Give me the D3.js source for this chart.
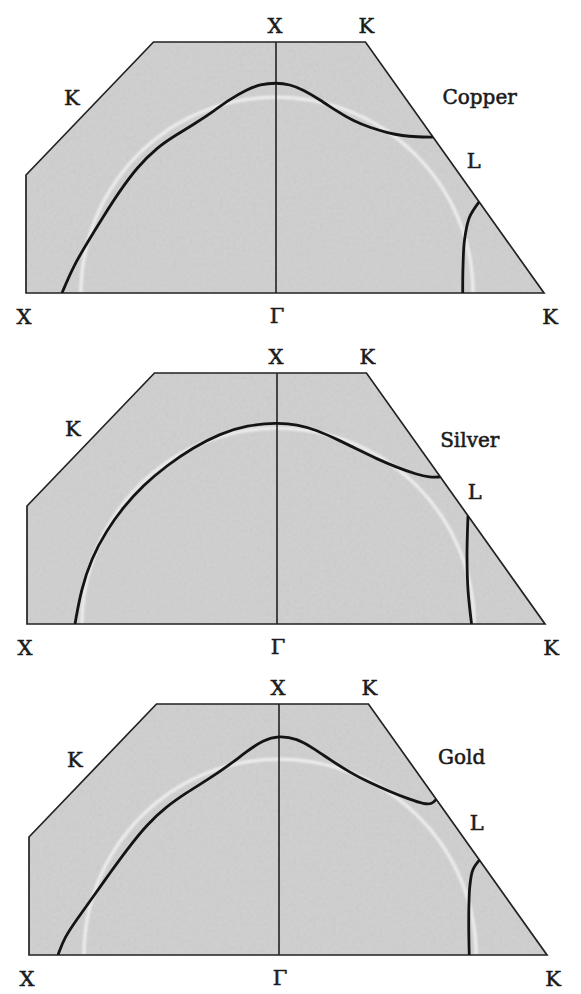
<!DOCTYPE html>
<html>
<head>
<meta charset="utf-8">
<script src="https://cdn.jsdelivr.net/npm/d3@7"></script>
<style>
  html, body { margin: 0; background: #fff; }
  svg { display: block; }
</style>
</head>
<body>
<svg id="chart" width="581" height="994"></svg>
<script>
// Fermi-surface sections of the noble metals inside the fcc Brillouin zone.
// Units are 2π/a: horizontal = wavevector along the section, vertical = k_z.

const metals = ["Copper", "Silver", "Gold"];

// Zone-boundary outline: X → K → X(top) → K → L → K
const zoneBoundary = [[-1, 0], [-1, 0.47], [-0.49, 1], [0, 1], [0.354, 1], [1.0607, 0]];

// Symmetry points and their names
const pointNames = ["X", "K", "K", "L", "X", "Γ", "K"];
const pointCoords = [[0, 1], [0.354, 1], [-0.745, 0.735], [0.707, 0.5], [-1, 0], [0, 0], [1.0607, 0]];

// Free-electron sphere radius
const freeElectronRadius = 0.78;

// Main "belly" sections of each Fermi surface (left branch → peak toward X → meets the L face)
const copperBelly = [
  [-0.856, 0], [-0.812, 0.104], [-0.756, 0.199], [-0.692, 0.303], [-0.624, 0.408],
  [-0.556, 0.500], [-0.476, 0.580], [-0.396, 0.632], [-0.316, 0.680], [-0.252, 0.723],
  [-0.184, 0.772], [-0.116, 0.811], [-0.064, 0.831], [0, 0.838], [0.055, 0.831],
  [0.107, 0.810], [0.174, 0.770], [0.241, 0.724], [0.304, 0.686], [0.372, 0.659],
  [0.439, 0.639], [0.502, 0.626], [0.557, 0.622], [0.621, 0.621]
];
const silverBelly = [
  [-0.808, 0], [-0.784, 0.135], [-0.742, 0.262], [-0.682, 0.372], [-0.616, 0.464],
  [-0.536, 0.552], [-0.440, 0.632], [-0.336, 0.703], [-0.228, 0.758], [-0.120, 0.792],
  [0, 0.802], [0.079, 0.795], [0.158, 0.772], [0.237, 0.736], [0.316, 0.697],
  [0.395, 0.658], [0.474, 0.624], [0.553, 0.596], [0.605, 0.584], [0.646, 0.586]
];
const goldBelly = [
  [-0.884, 0], [-0.858, 0.070], [-0.810, 0.140], [-0.744, 0.231], [-0.676, 0.327],
  [-0.608, 0.420], [-0.530, 0.518], [-0.450, 0.592], [-0.368, 0.648], [-0.288, 0.697],
  [-0.208, 0.750], [-0.128, 0.812], [-0.064, 0.856], [0, 0.874], [0.071, 0.862],
  [0.134, 0.825], [0.202, 0.778], [0.281, 0.727], [0.360, 0.686], [0.439, 0.651],
  [0.518, 0.620], [0.575, 0.601], [0.606, 0.602], [0.622, 0.620]
];

// Neck sections near the L face / K corner
const copperNeck = [[0.804, 0.363], [0.765, 0.300], [0.746, 0.210], [0.740, 0.100], [0.739, 0]];
const silverNeck = [[0.756, 0.432], [0.754, 0.375], [0.752, 0.267], [0.756, 0.135], [0.770, 0]];
const goldNeck = [[0.793, 0.378], [0.767, 0.339], [0.755, 0.271], [0.751, 0.139], [0.753, 0]];

const bellies = [copperBelly, silverBelly, goldBelly];
const necks = [copperNeck, silverNeck, goldNeck];

// ---- layout ----
const panelOrigin = [[276, 293], [277, 624], [279, 955]];   // pixel position of Γ
const leftSpan = 250, rightSpan = 268, upSpan = 251;       // pixels for X←Γ, Γ→K, Γ→X(top)
const nameAnchor = [[0.806, 0.753], [0.763, 0.705], [0.723, 0.761]];
const labelOffset = [[-1, -9], [1, -9], [-18, -4], [19, 0], [-2, 31], [1, 30], [6, 31]];

const svg = d3.select("#chart");
const defs = svg.append("defs");

// fine paper grain for the shaded zone
const grain = defs.append("filter").attr("id", "grain")
  .attr("x", 0).attr("y", 0).attr("width", 1).attr("height", 1);
grain.append("feTurbulence").attr("type", "fractalNoise")
  .attr("baseFrequency", 0.3).attr("numOctaves", 3).attr("seed", 7);
grain.append("feColorMatrix").attr("type", "matrix")
  .attr("values", "0 0 0 0 0.55  0 0 0 0 0.55  0 0 0 0 0.55  1 1 1 0 -1.35");

const softWhite = defs.append("filter").attr("id", "soft");
softWhite.append("feGaussianBlur").attr("stdDeviation", 0.9);

metals.forEach((metal, i) => {
  const [gx, gy] = panelOrigin[i];
  const x = d3.scaleLinear().domain([-1, 0, 1.0607]).range([gx - leftSpan, gx, gx + rightSpan]);
  const y = d3.scaleLinear().domain([0, 1]).range([gy, gy - upSpan]);

  const g = svg.append("g").attr("class", "panel");
  const outline = d3.line().x(d => x(d[0])).y(d => y(d[1]));
  const smooth = d3.line().x(d => x(d[0])).y(d => y(d[1])).curve(d3.curveBasis);
  const through = d3.line().x(d => x(d[0])).y(d => y(d[1])).curve(d3.curveCatmullRom.alpha(0.5));

  const clipId = "zone" + i;
  defs.append("clipPath").attr("id", clipId)
    .append("path").attr("d", outline(zoneBoundary) + "Z");

  // shaded zone
  g.append("path").attr("d", outline(zoneBoundary) + "Z").attr("fill", "#cfcfcf");
  g.append("rect")
    .attr("x", x(-1)).attr("y", y(1)).attr("width", x(1.0607) - x(-1)).attr("height", y(0) - y(1))
    .attr("clip-path", `url(#${clipId})`).attr("filter", "url(#grain)").attr("opacity", 0.5);

  // free-electron sphere, faint white ring
  const ring = d3.range(0, 181, 2).map(a => {
    const t = a * Math.PI / 180;
    return [freeElectronRadius * Math.cos(t), freeElectronRadius * Math.sin(t)];
  });
  g.append("path").attr("d", through(ring))
    .attr("fill", "none").attr("stroke", "#f6f6f6").attr("stroke-width", 3.2)
    .attr("opacity", 0.8).attr("filter", "url(#soft)")
    .attr("clip-path", `url(#${clipId})`);

  // Γ–X line
  g.append("path").attr("d", outline([[0, 0], [0, 1]]))
    .attr("fill", "none").attr("stroke", "#222").attr("stroke-width", 1.6);

  // zone outline
  g.append("path").attr("d", outline(zoneBoundary) + "Z")
    .attr("fill", "none").attr("stroke", "#222").attr("stroke-width", 1.7)
    .attr("stroke-linejoin", "miter");

  // Fermi-surface sections
  g.append("path").attr("d", smooth(bellies[i]))
    .attr("fill", "none").attr("stroke", "#141414").attr("stroke-width", 2.8)
    .attr("clip-path", `url(#${clipId})`);
  g.append("path").attr("d", through(necks[i]))
    .attr("fill", "none").attr("stroke", "#141414").attr("stroke-width", 2.8)
    .attr("clip-path", `url(#${clipId})`);

  // symmetry-point labels
  const labels = g.append("g")
    .attr("font-family", "'DejaVu Serif', 'Liberation Serif', serif")
    .attr("font-size", 21).attr("fill", "#1b1b1b")
    .attr("stroke", "#1b1b1b").attr("stroke-width", 0.55)
    .attr("text-anchor", "middle");
  pointNames.forEach((name, j) => {
    labels.append("text")
      .attr("x", x(pointCoords[j][0]) + labelOffset[j][0])
      .attr("y", y(pointCoords[j][1]) + labelOffset[j][1])
      .text(name);
  });

  // metal name
  labels.append("text")
    .attr("x", x(nameAnchor[i][0])).attr("y", y(nameAnchor[i][1]))
    .attr("font-size", 20)
    .text(metal);
});
</script>
</body>
</html>
